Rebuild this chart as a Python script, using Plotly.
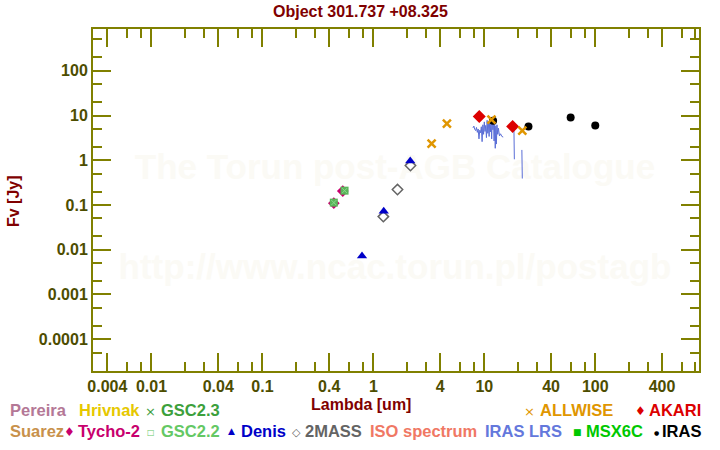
import plotly.graph_objects as go

# ---------------- data ----------------
tycho_wl = [0.44, 0.53]
tycho_fl = [0.11, 0.205]

gsc22_wl = [0.44, 0.55]
gsc22_fl = [0.113, 0.209]

gsc23_wl = [0.44, 0.55]
gsc23_fl = [0.113, 0.209]

denis_wl = [0.79, 1.24, 2.15]
denis_fl = [0.0072, 0.072, 0.965]

tmass_wl = [1.23, 1.65, 2.16]
tmass_fl = [0.055, 0.221, 0.76]

allwise_wl = [3.35, 4.6, 11.6, 22.0]
allwise_fl = [2.36, 6.6, 8.1, 4.6]

akari_wl = [9.0, 18.0]
akari_fl = [9.5, 5.7]

iras_wl = [12.0, 25.0, 60.0, 100.0]
iras_fl = [7.6, 5.7, 9.0, 6.0]

lrs_wl = [7.9, 8.05, 8.2, 8.35, 8.5, 8.65, 8.8, 8.95, 9.1, 9.25, 9.4, 9.55, 9.7,
          9.85, 10.0, 10.15, 10.3, 10.45, 10.6, 10.75, 10.9, 11.05, 11.2, 11.35,
          11.5, 11.65, 11.8, 11.95, 12.1, 12.25, 12.4, 12.55, 12.7, 12.85, 13.0,
          13.2, 13.4, 13.7, 14.0, 14.4, 14.8, None, 18.45, 18.55, 18.65, None,
          21.8, 21.9, 22.0]
lrs_fl = [5.3, 5.8, 4.9, 4.6, 5.4, 4.2, 5.0, 3.0, 4.7, 4.1, 5.6, 2.6, 6.2,
          3.8, 7.2, 4.4, 6.0, 3.2, 7.8, 4.0, 6.9, 3.4, 9.0, 4.3,
          7.4, 3.0, 9.3, 4.8, 8.0, 2.7, 6.6, 1.85, 5.8, 2.3, 6.2,
          3.8, 5.2, 3.5, 3.9, 3.4, 3.3, None, 7.2, 2.5, 1.05, None,
          1.7, 0.95, 0.39]

x_tickvals = [0.004, 0.01, 0.04, 0.1, 0.4, 1, 4, 10, 40, 100, 400]
x_ticktext = ["0.004", "0.01", "0.04", "0.1", "0.4", "1", "4", "10", "40", "100", "400"]
y_tickvals = [0.0001, 0.001, 0.01, 0.1, 1, 10, 100]
y_ticktext = ["0.0001", "0.001", "0.01", "0.1", "1", "10", "100"]

# ---------------- styles ----------------
OLIVE = "#808000"
LABEL = "#4d4d00"
DARKRED = "#800000"
FONT = "Liberation Sans"

x_minor = []
for dec in [0.001, 0.01, 0.1, 1, 10, 100]:
    for m in [2, 3, 6, 8]:
        x_minor.append(round(m * dec, 6))
y_minor = []
for dec in [0.00001, 0.0001, 0.001, 0.01, 0.1, 1, 10, 100]:
    for m in [2, 5]:
        y_minor.append(m * dec)

fig = go.Figure()

fig.add_trace(go.Scatter(x=lrs_wl, y=lrs_fl, mode="lines",
                         line=dict(color="#5a6ed7", width=1), connectgaps=False))
fig.add_trace(go.Scatter(x=tycho_wl, y=tycho_fl, mode="markers",
                         marker=dict(symbol="diamond", size=9, color="#c8006e")))
fig.add_trace(go.Scatter(x=gsc22_wl, y=gsc22_fl, mode="markers",
                         marker=dict(symbol="square", size=8, color="#5ab45a")))
fig.add_trace(go.Scatter(x=gsc23_wl, y=gsc23_fl, mode="markers",
                         marker=dict(symbol="x-thin", size=5,
                                     line=dict(color="#8cd88c", width=1))))
fig.add_trace(go.Scatter(x=tmass_wl, y=tmass_fl, mode="markers",
                         marker=dict(symbol="diamond-open", size=8, color="#646464",
                                     line=dict(width=1.5))))
fig.add_trace(go.Scatter(x=denis_wl, y=denis_fl, mode="markers",
                         marker=dict(symbol="triangle-up", size=9, color="#0000c8")))
fig.add_trace(go.Scatter(x=iras_wl, y=iras_fl, mode="markers",
                         marker=dict(symbol="circle", size=8, color="#000000")))
fig.add_trace(go.Scatter(x=akari_wl, y=akari_fl, mode="markers",
                         marker=dict(symbol="diamond", size=10, color="#dc0000")))
fig.add_trace(go.Scatter(x=allwise_wl, y=allwise_fl, mode="markers",
                         marker=dict(symbol="x-thin", size=8,
                                     line=dict(color="#e09600", width=2.5))))

axis_common = dict(
    showline=True, linecolor=OLIVE, linewidth=2, mirror="ticks",
    ticks="inside", ticklen=18, tickwidth=1.5, tickcolor=OLIVE,
    showgrid=False, zeroline=False,
    tickfont=dict(family=FONT, size=16, color=LABEL, weight="bold"),
)

fig.update_xaxes(type="log", range=[-2.527, 2.935], tickmode="array",
                 tickvals=x_tickvals, ticktext=x_ticktext,
                 minor=dict(tickmode="array", tickvals=x_minor, ticks="inside",
                            ticklen=9, tickwidth=1.5, tickcolor=OLIVE, showgrid=False),
                 **axis_common)
fig.update_yaxes(type="log", range=[-4.71, 2.933], tickmode="array",
                 tickvals=y_tickvals, ticktext=y_ticktext,
                 minor=dict(tickmode="array", tickvals=y_minor, ticks="inside",
                            ticklen=9, tickwidth=1.5, tickcolor=OLIVE, showgrid=False),
                 **axis_common)

L, R, T, B = 93, 21, 29, 79
W, H = 720, 450
PW, PH = W - L - R, H - T - B


def px(xp):
    return (xp - L) / PW


def py(yp):
    return (H - B - yp) / PH


annotations = []


def txt(text, xp, yp, color, size=16, xanchor="left", angle=0, bold=True):
    annotations.append(dict(text=text, x=px(xp), y=py(yp), xref="paper", yref="paper",
                            xanchor=xanchor, yanchor="middle", showarrow=False,
                            textangle=angle, borderpad=0,
                            font=dict(family=FONT, size=size, color=color,
                                      weight="bold" if bold else "normal")))


def sym(glyph, xc, yc, color, size):
    annotations.append(dict(text=glyph, x=px(xc), y=py(yc), xref="paper", yref="paper",
                            xanchor="center", yanchor="middle", showarrow=False,
                            borderpad=0,
                            font=dict(family="DejaVu Sans", size=size, color=color)))


txt("Object 301.737 +08.325", 360, 12, DARKRED, xanchor="center")
txt("Lambda [um]", 361, 404, DARKRED, xanchor="center")
txt("Fv [Jy]", 13, 201, DARKRED, xanchor="center", angle=-90)

LS = 16.5
R1, R2 = 410, 431
# legend row 1
txt("Pereira", 9, R1, "#b47896", LS)
txt("Hrivnak", 77.5, R1, "#e6c800", LS)
sym("×", 150, R1 + 1, "#3ca03c", 13)
txt("GSC2.3", 159.5, R1, "#3ca03c", LS)
sym("×", 529.5, R1 + 1, "#e09600", 13)
txt("ALLWISE", 538.5, R1, "#e09600", LS)
sym("♦", 640.5, R1 + 1, "#dc0000", 12)
txt("AKARI", 648, R1, "#dc0000", LS)
# legend row 2
txt("Suarez", 9, R2, "#c8914b", LS)
sym("♦", 69, R2 + 1, "#c8006e", 12)
txt("Tycho-2", 77, R2, "#c8006e", LS)
sym("□", 150.5, R2 + 1, "#64c864", 8)
txt("GSC2.2", 159.5, R2, "#64c864", LS)
sym("▲", 231, R2, "#0000c8", 9)
txt("Denis", 239.5, R2, "#0000c8", LS)
sym("◇", 296, R2 + 1, "#646464", 11)
txt("2MASS", 304, R2, "#646464", LS)
txt("ISO spectrum", 369, R2, "#f07864", LS)
txt("IRAS LRS", 484, R2, "#6478dc", LS)
sym("■", 577.5, R2 + 1, "#00c800", 9)
txt("MSX6C", 584.5, R2, "#00c800", LS)
sym("●", 656.5, R2 + 1, "#000000", 6)
txt("IRAS", 660.5, R2, "#000000", LS)

shapes = []
for text, ycen in [("The Torun post-AGB Catalogue", 163), ("http://www.ncac.torun.pl/postagb", 263)]:
    shapes.append(dict(type="rect", xref="paper", yref="paper",
                       x0=px(100), x1=px(690), y0=py(ycen + 20), y1=py(ycen - 20),
                       line=dict(width=0), fillcolor="rgba(0,0,0,0)", layer="below",
                       label=dict(text=text, textposition="middle center",
                                  font=dict(family=FONT, size=35, color="#fbfaf5",
                                            weight="bold"))))

fig.update_layout(
    width=W, height=H,
    margin=dict(l=L, r=R, t=T, b=B),
    paper_bgcolor="white", plot_bgcolor="white",
    showlegend=False,
    annotations=annotations,
    shapes=shapes,
)

fig.write_html("out.html", post_script="document.body.style.margin='0';",
               config={"displayModeBar": False})
